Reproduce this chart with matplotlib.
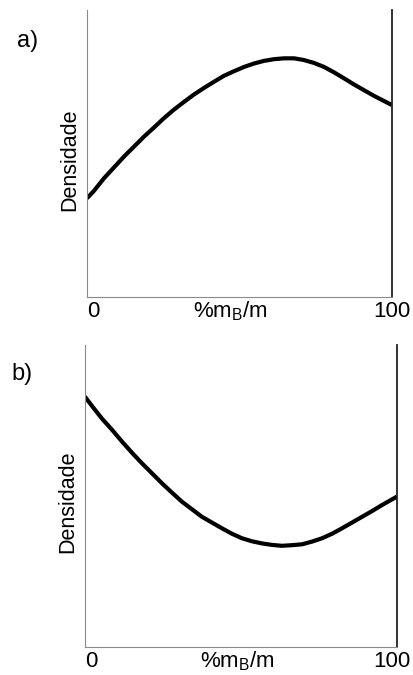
import matplotlib.pyplot as plt
from matplotlib.transforms import ScaledTranslation

# painel a) - densidade com maximo
xa = [0, 2.3, 5.6, 8.9, 12.1, 15.4, 18.7, 22.0, 25.2, 28.5, 31.8, 35.1, 38.4, 41.6, 44.9, 48.2,
      51.5, 54.8, 58.0, 61.3, 64.6, 67.9, 71.1, 74.4, 77.7, 81.0, 84.3, 87.5, 90.8, 94.1, 97.4, 100]
ya = [34.4, 37.0, 41.4, 45.2, 48.9, 52.4, 55.9, 59.1, 62.3, 65.3, 68.0, 70.6, 72.9, 75.0, 77.1, 78.7,
      80.2, 81.4, 82.3, 82.9, 83.2, 83.2, 82.6, 81.6, 80.2, 78.3, 76.2, 74.1, 72.1, 70.1, 68.3, 66.9]

# painel b) - densidade com minimo
xb = [0, 2.2, 5.4, 8.7, 11.9, 15.1, 18.3, 21.5, 24.7, 27.9, 31.1, 34.3, 37.5, 40.7, 43.9, 47.1,
      50.3, 53.5, 56.7, 59.9, 63.1, 66.3, 69.6, 72.8, 76.0, 79.2, 82.4, 85.6, 88.8, 92.0, 95.2, 100]
yb = [82.9, 79.9, 75.7, 71.9, 68.0, 64.3, 60.8, 57.5, 54.2, 51.1, 48.1, 45.6, 43.1, 41.2, 39.3, 37.5,
      36.0, 35.0, 34.3, 33.8, 33.5, 33.7, 34.0, 34.9, 36.0, 37.5, 39.3, 41.2, 43.1, 45.0, 47.0, 49.8]

tick_pos = [0, 100]
tick_labels = ['0', '100']
panels = ['a)', 'b)']

plt.rcParams['font.family'] = ['Liberation Sans', 'DejaVu Sans']
plt.rcParams['mathtext.default'] = 'regular'

fig = plt.figure(figsize=(4.14, 6.75), dpi=100)
axa = fig.add_axes([0.210, 0.560, 0.737, 0.425])
axb = fig.add_axes([0.205, 0.0415, 0.754, 0.4475])

for ax, x, y, xlab_pos, tag, tag_pos, shift in [
        (axa, xa, ya, 0.47, panels[0], (28, 41), 0),
        (axb, xb, yb, 0.487, panels[1], (22, 374), -5)]:
    ax.plot(x, y, color='black', lw=3, solid_joinstyle='round', solid_capstyle='butt')
    ax.set_xlim(0, 100)
    ax.set_ylim(0, 100)
    ax.spines['top'].set_visible(False)
    ax.spines['left'].set_color('#8a8a8a')
    ax.spines['bottom'].set_color('#8a8a8a')
    ax.spines['right'].set_color('#222222')
    ax.spines['right'].set_linewidth(1.3)
    ax.set_yticks([])
    ax.set_xticks(tick_pos)
    ax.set_xticklabels(tick_labels, fontsize=16)
    ax.tick_params(axis='x', length=0, pad=3)
    labs = ax.get_xticklabels()
    labs[0].set_ha('left')
    labs[1].set_transform(labs[1].get_transform() +
                          ScaledTranslation(shift / 100, 0, fig.dpi_scale_trans))
    ax.annotate('%m$_B$/m', xy=(xlab_pos, 0), xycoords='axes fraction',
                xytext=(0, -14), textcoords='offset pixels',
                ha='center', va='center', fontsize=16)
    ax.annotate('Densidade', xy=(0, 0.48), xycoords='axes fraction',
                xytext=(-17, 0), textcoords='offset pixels',
                ha='center', va='center', rotation=90, fontsize=15.5)
    fig.text(tag_pos[0] / 414, 1 - tag_pos[1] / 675, tag,
             ha='center', va='center', fontsize=17)

fig.savefig('out.png', dpi=100)
